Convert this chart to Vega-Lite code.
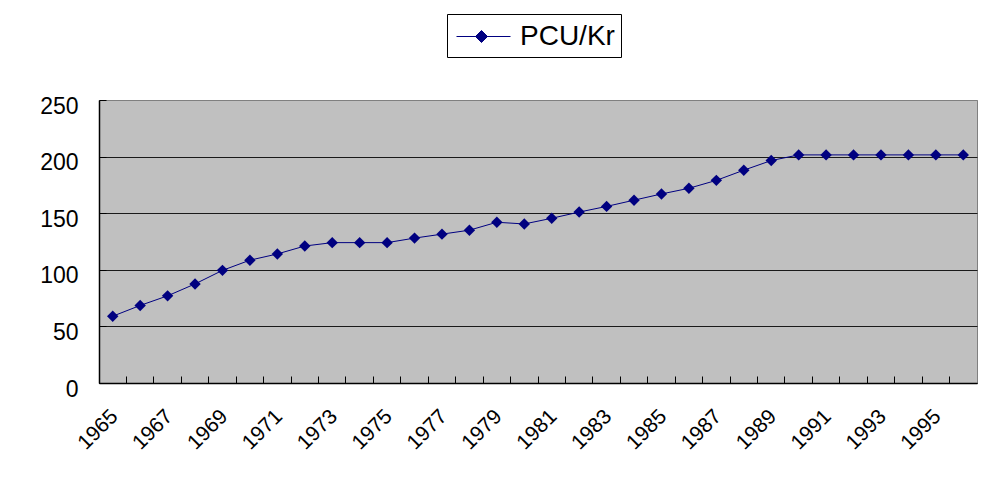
{
  "$schema": "https://vega.github.io/schema/vega-lite/v6.json",
  "width": 878,
  "height": 283,
  "autosize": "none",
  "padding": {"left": 99, "top": 100, "right": 7, "bottom": 98},
  "background": "white",
  "config": {
    "font": "Liberation Sans",
    "view": {"fill": "#C0C0C0", "stroke": "#808080", "strokeWidth": 1},
    "axis": {
      "labelFont": "Liberation Sans",
      "labelColor": "#000000",
      "domainColor": "#000000",
      "tickColor": "#000000",
      "gridColor": "#1a1a1a",
      "gridOpacity": 1,
      "domainWidth": 1.5,
      "title": null
    }
  },
  "data": {
    "values": [
      {"year": "1965", "value": 59, "series": "PCU/Kr"},
      {"year": "1966", "value": 68.5, "series": "PCU/Kr"},
      {"year": "1967", "value": 77, "series": "PCU/Kr"},
      {"year": "1968", "value": 87.5, "series": "PCU/Kr"},
      {"year": "1969", "value": 99.5, "series": "PCU/Kr"},
      {"year": "1970", "value": 108.5, "series": "PCU/Kr"},
      {"year": "1971", "value": 114, "series": "PCU/Kr"},
      {"year": "1972", "value": 121, "series": "PCU/Kr"},
      {"year": "1973", "value": 124, "series": "PCU/Kr"},
      {"year": "1974", "value": 124, "series": "PCU/Kr"},
      {"year": "1975", "value": 124, "series": "PCU/Kr"},
      {"year": "1976", "value": 128, "series": "PCU/Kr"},
      {"year": "1977", "value": 131.5, "series": "PCU/Kr"},
      {"year": "1978", "value": 135, "series": "PCU/Kr"},
      {"year": "1979", "value": 142, "series": "PCU/Kr"},
      {"year": "1980", "value": 140.5, "series": "PCU/Kr"},
      {"year": "1981", "value": 145.5, "series": "PCU/Kr"},
      {"year": "1982", "value": 151, "series": "PCU/Kr"},
      {"year": "1983", "value": 156, "series": "PCU/Kr"},
      {"year": "1984", "value": 161.5, "series": "PCU/Kr"},
      {"year": "1985", "value": 167, "series": "PCU/Kr"},
      {"year": "1986", "value": 172, "series": "PCU/Kr"},
      {"year": "1987", "value": 179, "series": "PCU/Kr"},
      {"year": "1988", "value": 188, "series": "PCU/Kr"},
      {"year": "1989", "value": 196.5, "series": "PCU/Kr"},
      {"year": "1990", "value": 201.5, "series": "PCU/Kr"},
      {"year": "1991", "value": 201.5, "series": "PCU/Kr"},
      {"year": "1992", "value": 201.5, "series": "PCU/Kr"},
      {"year": "1993", "value": 201.5, "series": "PCU/Kr"},
      {"year": "1994", "value": 201.5, "series": "PCU/Kr"},
      {"year": "1995", "value": 201.5, "series": "PCU/Kr"},
      {"year": "1996", "value": 201.5, "series": "PCU/Kr"}
    ]
  },
  "encoding": {
    "x": {
      "field": "year",
      "type": "ordinal",
      "scale": {"type": "band", "paddingInner": 0, "paddingOuter": 0},
      "axis": {
        "bandPosition": 0,
        "labelOffset": 2,
        "labelAngle": -45,
        "labelAlign": "right",
        "labelBaseline": "middle",
        "labelFontSize": 21,
        "labelPadding": 37,
        "tickSize": -7,
        "tickWidth": 1,
        "grid": false,
        "labelExpr": "parseInt(datum.label) % 2 == 1 ? datum.label : ''"
      }
    },
    "y": {
      "field": "value",
      "type": "quantitative",
      "scale": {"domain": [0, 250], "nice": false},
      "axis": {
        "values": [0, 50, 100, 150, 200, 250],
        "labelFontSize": 23,
        "labelPadding": 28,
        "labelOffset": 6,
        "tickSize": -7,
        "grid": true,
        "gridColor": {"condition": {"test": "datum.value == 250", "value": "#808080"}, "value": "#1a1a1a"}
      }
    },
    "color": {
      "field": "series",
      "type": "nominal",
      "scale": {"range": ["#000080"]},
      "legend": {
        "title": null,
        "orient": "none",
        "legendX": 348,
        "legendY": -86,
        "symbolType": "M-0.8125,0H2.5625M0.375,0L0.75,-0.375L1.125,0L0.75,0.375Z",
        "symbolSize": 1024,
        "symbolStrokeWidth": 1,
        "labelFontSize": 28,
        "labelFont": "Liberation Sans",
        "labelColor": "#000000",
        "labelOffset": 34,
        "padding": 6,
        "strokeColor": "#000000",
        "fillColor": "#ffffff",
        "encode": {"symbols": {"update": {"fill": {"value": "#000080"}, "stroke": {"value": "#000080"}}}}
      }
    }
  },
  "layer": [
    {"mark": {"type": "line", "strokeWidth": 1}},
    {"mark": {"type": "point", "shape": "diamond", "filled": true, "size": 130, "opacity": 1}}
  ]
}
